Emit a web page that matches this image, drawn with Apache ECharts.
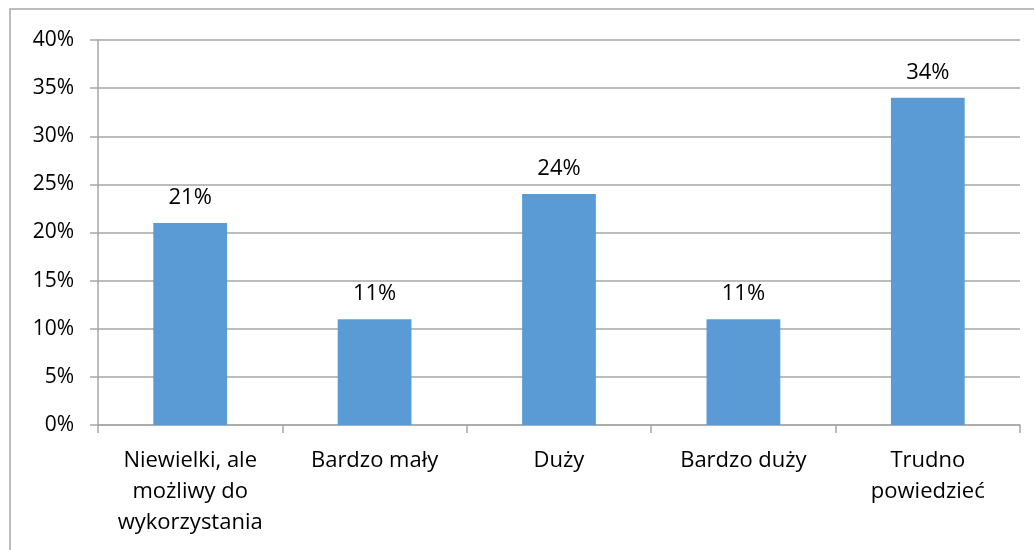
<!DOCTYPE html>
<html>
<head>
<meta charset="utf-8">
<script src="https://cdn.jsdelivr.net/npm/echarts@6/dist/echarts.min.js"></script>
<style>
  html, body { margin: 0; padding: 0; background: #fff; }
  #chart { width: 1034px; height: 550px; }
</style>
</head>
<body>
<div id="chart"></div>
<script>
const categories = ['Niewielki, ale\nmożliwy do\nwykorzystania', 'Bardzo mały', 'Duży', 'Bardzo duży', 'Trudno\npowiedzieć']
const values = [21, 11, 24, 11, 34]
const yTicks = { min: 0, max: 40, interval: 5 }

const font = '"Open Sans", "Noto Sans", sans-serif'
const chart = echarts.init(document.getElementById('chart'))

const option = {
  animation: false,
  textStyle: { fontFamily: font },
  grid: { left: 98, right: 14, top: 40, bottom: 125 },
  graphic: [{
    type: 'rect',
    shape: { x: 10, y: 9, width: 1100, height: 600 },
    style: { fill: 'none', stroke: '#a6a6a6', lineWidth: 1.5 },
    silent: true
  }],
  xAxis: {
    type: 'category',
    data: categories,
    axisLine: { lineStyle: { color: '#a6a6a6', width: 1.5 } },
    axisTick: { show: true, length: 8, alignWithLabel: false, lineStyle: { color: '#a6a6a6', width: 1.5 } },
    axisLabel: { color: '#000', fontSize: 22, lineHeight: 31, margin: 20, interval: 0, fontFamily: font }
  },
  yAxis: {
    type: 'value',
    min: yTicks.min,
    max: yTicks.max,
    interval: yTicks.interval,
    axisLine: { show: true, lineStyle: { color: '#a6a6a6', width: 1.5 } },
    axisTick: { show: true, length: 8, inside: false, lineStyle: { color: '#a6a6a6', width: 1.5 } },
    splitLine: { show: true, lineStyle: { color: '#a6a6a6', width: 1.5 } },
    axisLabel: { color: '#000', fontSize: 21, margin: 24, formatter: '{value}%', fontFamily: font }
  },
  series: [{
    type: 'bar',
    data: values,
    barWidth: '40%',
    itemStyle: { color: '#5b9bd5' },
    label: {
      show: true,
      position: 'top',
      distance: 14,
      formatter: '{c}%',
      color: '#000',
      fontSize: 22,
      fontFamily: font
    }
  }]
}

chart.setOption(option)
</script>
</body>
</html>
